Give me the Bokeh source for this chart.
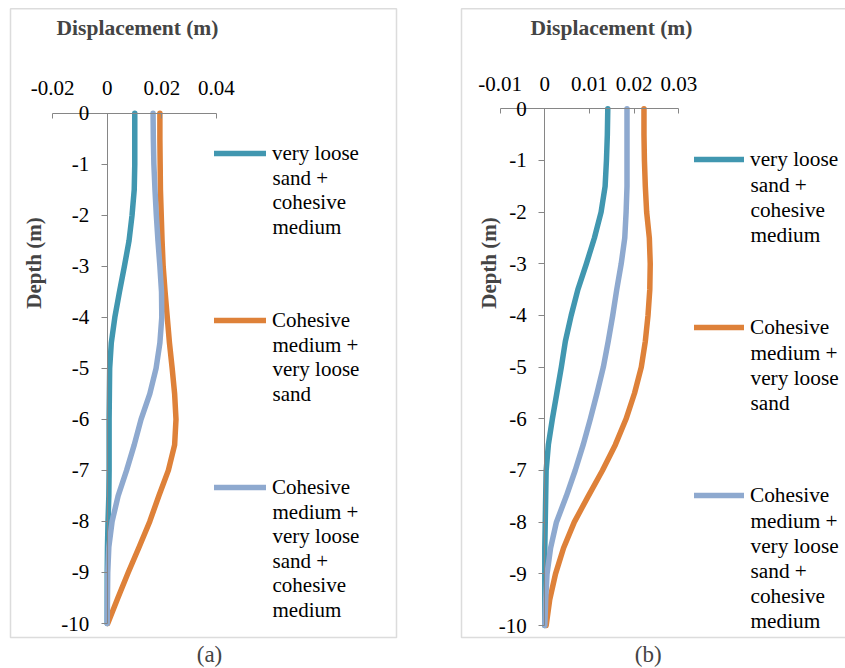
import math
from bokeh.plotting import figure
from bokeh.models import (Range1d, FixedTicker, Legend, LegendItem, Label,
                          BoxAnnotation)
from bokeh.layouts import row
from bokeh.embed import file_html
from bokeh.resources import INLINE

# ---------------- data ----------------
depth = [0, -0.5, -1, -1.5, -2, -2.5, -3, -3.5, -4, -4.5, -5,
         -5.5, -6, -6.5, -7, -7.5, -8, -8.5, -9, -9.5, -10]

# panel (a)
a_loose_cohesive = [0.0101, 0.0101, 0.0101, 0.0099, 0.0091, 0.0080, 0.0063, 0.0045,
                    0.0028, 0.0015, 0.0009, 0.0008, 0.0007, 0.0007, 0.0007, 0.0006,
                    0.0003, 0.0001, 0.0, 0.0, 0.0]
a_cohesive_loose = [0.0193, 0.0193, 0.0194, 0.0195, 0.0198, 0.0201, 0.0205, 0.0212,
                    0.0220, 0.0228, 0.0238, 0.0247, 0.0252, 0.0247, 0.0224, 0.0189,
                    0.0156, 0.0117, 0.0077, 0.0039, 0.0002]
a_cohesive_loose_cohesive = [0.0168, 0.0169, 0.0171, 0.0175, 0.0180, 0.0186, 0.0193, 0.0199,
                             0.0200, 0.0193, 0.0179, 0.0156, 0.0124, 0.0099, 0.0071, 0.0040,
                             0.0018, 0.0006, 0.0002, 0.0001, 0.0]

# panel (b)
b_loose_cohesive = [0.0141, 0.0140, 0.0138, 0.0135, 0.0126, 0.0111, 0.0093, 0.0074,
                    0.0059, 0.0046, 0.0037, 0.0027, 0.0017, 0.0008, 0.0003, 0.0002,
                    0.0001, 0.0, 0.0, 0.0, 0.0]
b_cohesive_loose = [0.0222, 0.0222, 0.0223, 0.0225, 0.0228, 0.0234, 0.0236, 0.0235,
                    0.0231, 0.0225, 0.0216, 0.0201, 0.0182, 0.0158, 0.0129, 0.0097,
                    0.0066, 0.0042, 0.0024, 0.0011, 0.0003]
b_cohesive_loose_cohesive = [0.0184, 0.0184, 0.0184, 0.0184, 0.0182, 0.0179, 0.0171, 0.0161,
                             0.0152, 0.0142, 0.0131, 0.0117, 0.0102, 0.0086, 0.0068, 0.0048,
                             0.0026, 0.0013, 0.0005, 0.0002, 0.0]

# legend entries, one list of wrapped lines per series
series_labels = [
    ["very loose", "sand +", "cohesive", "medium"],
    ["Cohesive", "medium +", "very loose", "sand"],
    ["Cohesive", "medium +", "very loose", "sand +", "cohesive", "medium"],
]
series_colors = ["#4197B0", "#DE8139", "#8EA9CF"]

x_ticks_a = [-0.02, 0, 0.02, 0.04]
x_tick_labels_a = ["-0.02", "0", "0.02", "0.04"]
x_ticks_b = [-0.01, 0, 0.01, 0.02, 0.03]
x_tick_labels_b = ["-0.01", "0", "0.01", "0.02", "0.03"]
y_ticks = [0, -1, -2, -3, -4, -5, -6, -7, -8, -9, -10]
y_tick_labels = ["0", "-1", "-2", "-3", "-4", "-5", "-6", "-7", "-8", "-9", "-10"]

x_title = "Displacement (m)"
y_title = "Depth (m)"
panel_names = ["(a)", "(b)"]

FONT = "Liberation Serif"
AXIS_COLOR = "#868686"
H = 668
GH = 30  # legend item height


def make_panel(xbounds, xticks, xlabels, series, width,
               x0_px, px_per_x, y0_px, px_per_y,
               title_x, ylab_x, name_x,
               glyph_x, glyph_w, text_x, first_y, step, line_sp, leg_font, box_l, box_r, name):
    # frame covers the whole canvas; ranges chosen so that the axes sit where the
    # reference draws them (x=0 at x0_px, y=0 at y0_px from the top)
    xr = Range1d(-x0_px / px_per_x, (width - x0_px) / px_per_x)
    yr = Range1d(-(H - y0_px) / px_per_y, y0_px / px_per_y)
    p = figure(width=width, height=H, x_range=xr, y_range=yr,
               x_axis_location="above", output_backend="svg", toolbar_location=None,
               min_border=0)
    p.grid.visible = False
    p.outline_line_color = None
    p.background_fill_color = "white"
    p.border_fill_color = "white"

    xa = p.xaxis[0]
    xa.fixed_location = 0
    xa.bounds = xbounds
    xa.ticker = FixedTicker(ticks=xticks)
    xa.major_label_overrides = {t: l for t, l in zip(xticks, xlabels)}
    xa.minor_tick_line_color = None
    xa.major_tick_in = 5
    xa.major_tick_out = 0
    xa.axis_line_color = AXIS_COLOR
    xa.major_tick_line_color = AXIS_COLOR
    xa.major_label_text_font = FONT
    xa.major_label_text_font_size = "21px"
    xa.major_label_text_color = "black"
    xa.major_label_standoff = 18

    ya = p.yaxis[0]
    ya.fixed_location = 0
    ya.bounds = (-10, 0)
    ya.ticker = FixedTicker(ticks=y_ticks)
    ya.major_label_overrides = {t: l for t, l in zip(y_ticks, y_tick_labels)}
    ya.minor_tick_line_color = None
    ya.major_tick_in = 0
    ya.major_tick_out = 6
    ya.axis_line_color = AXIS_COLOR
    ya.major_tick_line_color = AXIS_COLOR
    ya.major_label_text_font = FONT
    ya.major_label_text_font_size = "21px"
    ya.major_label_text_color = "black"
    ya.major_label_standoff = 12

    items = []
    for vals, lines, col in zip(series, series_labels, series_colors):
        r = p.line(vals, depth, line_color=col, line_width=5.5,
                   line_cap="round", line_join="round")
        items.append(LegendItem(label=lines[0], renderers=[r]))

    spacing = int(step - GH)
    leg_bottom = first_y - GH / 2 + 3 * GH + 2 * spacing
    leg = Legend(items=items, location=(glyph_x, H - leg_bottom), padding=0, margin=0,
                 spacing=spacing, glyph_width=glyph_w, glyph_height=GH, label_height=GH,
                 label_standoff=int(round(text_x - glyph_x - glyph_w)),
                 label_text_font=FONT, label_text_font_size=leg_font,
                 label_text_baseline="middle", label_text_color="black",
                 border_line_color=None, background_fill_alpha=0)
    p.add_layout(leg, "center")

    # wrapped continuation lines of each legend entry
    for i, lines in enumerate(series_labels):
        for k, txt in enumerate(lines[1:], start=1):
            p.add_layout(Label(x=text_x, y=H - (first_y + i * step + k * line_sp),
                               x_units="screen", y_units="screen", text=txt,
                               text_font=FONT, text_font_size=leg_font,
                               text_align="left", text_baseline="middle",
                               text_color="black"))

    p.add_layout(Label(x=title_x, y=H - 27, x_units="screen", y_units="screen",
                       text=x_title, text_font=FONT, text_font_size="21.5px",
                       text_font_style="bold", text_align="center",
                       text_baseline="middle"))
    p.add_layout(Label(x=ylab_x, y=H - 262.5, x_units="screen", y_units="screen",
                       text=y_title, text_font=FONT, text_font_size="21px",
                       text_font_style="bold", text_align="center",
                       text_baseline="middle", angle=math.pi / 2))
    p.add_layout(Label(x=name_x, y=H - 654, x_units="screen", y_units="screen",
                       text=name, text_font=FONT, text_font_size="23px",
                       text_align="center", text_baseline="middle"))
    p.add_layout(BoxAnnotation(left=box_l, right=box_r, top=H - 8.3, bottom=H - 637,
                               left_units="screen", right_units="screen",
                               top_units="screen", bottom_units="screen",
                               fill_alpha=0, line_color="#8C8C8C", line_width=1.5,
                               level="underlay"))
    return p


pa = make_panel((-0.02, 0.04), x_ticks_a, x_tick_labels_a,
                [a_loose_cohesive, a_cohesive_loose, a_cohesive_loose_cohesive],
                width=452, x0_px=106.7, px_per_x=2730.0, y0_px=112.7, px_per_y=51.03,
                title_x=137, ylab_x=33.5, name_x=209,
                glyph_x=214, glyph_w=52, text_x=272, first_y=153, step=167, line_sp=24.4,
                leg_font="21px", box_l=10, box_r=396, name=panel_names[0])

pb = make_panel((-0.01, 0.03), x_ticks_b, x_tick_labels_b,
                [b_loose_cohesive, b_cohesive_loose, b_cohesive_loose_cohesive],
                width=393, x0_px=92.3, px_per_x=4467.5, y0_px=108.3, px_per_y=51.67,
                title_x=159, ylab_x=36.5, name_x=195.7,
                glyph_x=242, glyph_w=50, text_x=298, first_y=159, step=168, line_sp=25,
                leg_font="21.3px", box_l=9, box_r=500, name=panel_names[1])

layout = row(pa, pb, spacing=0)
open("out.html", "w").write(file_html(layout, INLINE))
